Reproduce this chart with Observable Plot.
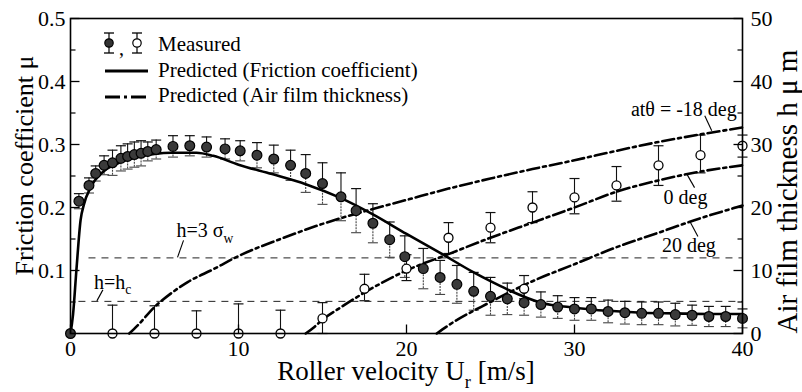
<!DOCTYPE html>
<html><head><meta charset="utf-8">
<script src="https://cdn.jsdelivr.net/npm/d3@7"></script>
<script src="https://cdn.jsdelivr.net/npm/@observablehq/plot@0.6"></script>
<style>
html,body{margin:0;padding:0;background:#fff;}
#chart{position:relative;width:802px;height:392px;overflow:hidden;}
</style></head><body><div id="chart"></div>
<script>
// ---- Measured friction coefficient (filled circles, left axis) ----
const muX   = [0, 0.5, 1.1, 1.5, 2.0, 2.5, 3.0, 3.4, 3.8, 4.2, 4.6, 5.1, 6.1, 7.1, 8.1, 9.2, 10.1, 11.1, 12.1, 13.1, 14, 15, 16.1, 17, 18, 19, 19.9, 21, 22, 23, 24, 25, 26, 27, 28, 29, 30, 31, 32, 33, 34, 35, 36, 37, 38, 39, 40];
const muY   = [0, 0.21, 0.235, 0.254, 0.267, 0.271, 0.278, 0.281, 0.284, 0.286, 0.289, 0.292, 0.297, 0.298, 0.296, 0.293, 0.29, 0.283, 0.277, 0.267, 0.254, 0.238, 0.217, 0.195, 0.175, 0.149, 0.122, 0.103, 0.089, 0.078, 0.067, 0.059, 0.055, 0.049, 0.046, 0.042, 0.039, 0.039, 0.035, 0.033, 0.032, 0.032, 0.030, 0.029, 0.027, 0.027, 0.024];
const muErr = [0, 0.012, 0.012, 0.012, 0.015, 0.02, 0.02, 0.02, 0.02, 0.02, 0.015, 0.015, 0.017, 0.016, 0.016, 0.016, 0.016, 0.02, 0.022, 0.024, 0.03, 0.033, 0.038, 0.035, 0.031, 0.028, 0.033, 0.032, 0.027, 0.03, 0.03, 0.03, 0.025, 0.02, 0.02, 0.018, 0.018, 0.018, 0.018, 0.018, 0.018, 0.018, 0.018, 0.016, 0.016, 0.016, 0.015];

// ---- Measured air film thickness (open circles, right axis, µm) ----
const hX  = [2.5, 5, 7.5, 10, 12.5, 15, 17.5, 20, 22.5, 25, 27, 27.5, 30, 32.5, 35, 37.5, 40];
const hY  = [0, 0, 0, 0, 0, 2.4, 7.1, 10.3, 15.2, 16.8, 7.1, 20, 21.6, 23.5, 26.7, 28.3, 29.8];
const hHi = [4.5, 4.4, 3.6, 4.7, 3.7, 4.9, 9.4, 12.5, 17.6, 19.2, 9.2, 22.5, 24.6, 26.5, 29.8, 31.5, 31.5];
const hLo = [0, 0, 0, 0, 0, 0, 5.2, 8.4, 12.7, 14.4, 5.5, 17.6, 19, 21, 23.5, 25.5, 28];

// ---- Predicted friction coefficient (solid) ----
const fricX = [0, 0.15, 0.35, 0.6, 0.8, 1.2, 2, 3, 4, 5, 6, 7.5, 8.5, 10, 12, 14, 16, 18, 20, 22, 24, 25, 26, 28, 30, 32, 34, 36, 38, 40];
const fricY = [0, 0.03, 0.1, 0.18, 0.205, 0.232, 0.258, 0.272, 0.28, 0.285, 0.287, 0.287, 0.282, 0.268, 0.253, 0.237, 0.216, 0.189, 0.158, 0.128, 0.097, 0.083, 0.07, 0.049, 0.041, 0.036, 0.033, 0.032, 0.031, 0.031];

// ---- Predicted air film thickness (dash-dot, µm) ----
const th18X = [3.5, 4, 5, 6, 7, 8.5, 10, 12.5, 15, 17.5, 20, 22.5, 25, 27.5, 30, 32.5, 35, 37.5, 40];
const th18Y = [0, 1.3, 4.2, 6.4, 8.2, 10.2, 12.3, 15, 17.4, 19.4, 21.2, 23, 24.6, 26.1, 27.5, 29, 30.4, 31.6, 32.7];
const th0X  = [14, 14.5, 15, 16, 17.5, 20, 22.5, 25, 27.5, 30, 32.5, 35, 37.5, 40];
const th0Y  = [0, 1, 2.2, 4, 6.5, 10, 12.6, 15.2, 17.6, 20, 22.5, 24.3, 25.7, 26.7];
const th20X = [21.8, 22.5, 25, 27.5, 30, 32.5, 35, 37.5, 40];
const th20Y = [0, 1.3, 5, 8.3, 11, 13.7, 16, 18.3, 20.3];

// ---- Reference thickness levels (µm) ----
const guideLabel = ["h=3σw", "h=hc"];
const guideH     = [12, 5.1];
const guideFrom  = [1.1, 0.5];
const guideTo    = [40, 40];

// ---- Axes ----
const xTicks      = [0, 10, 20, 30, 40];
const yLeftTicks  = [0.1, 0.2, 0.3, 0.4, 0.5];
const yLeftMinor  = [0.05, 0.15, 0.25, 0.35, 0.45];
const yRightTicks = [0, 10, 20, 30, 40, 50];
const yRightMinor = [5, 15, 25, 35, 45];
const xDomain = [0, 40];
const yDomain = [0, 0.5];
const hPerMu = 100; // right axis: 50 µm <-> 0.5

// ---- tables ----
const muData = muX.map((x, i) => ({x, y: muY[i], lo: muY[i] - muErr[i], hi: muY[i] + muErr[i], e: muErr[i]}));
const muBars = muData.filter(d => d.e > 0);
const hData = hX.map((x, i) => ({x, y: hY[i] / hPerMu, lo: hLo[i] / hPerMu, hi: hHi[i] / hPerMu}));
const hLoBars = hData.filter(d => d.lo < d.y);
const line = (xs, ys, k = 1) => xs.map((x, i) => ({x, y: ys[i] * k}));
const fric = line(fricX, fricY);
const th18 = line(th18X, th18Y, 1 / hPerMu);
const th0 = line(th0X, th0Y, 1 / hPerMu);
const th20 = line(th20X, th20Y, 1 / hPerMu);
const guides = guideH.map((h, i) => ({y: h / hPerMu, x1: guideFrom[i], x2: guideTo[i], name: guideLabel[i]}));

// custom path symbols (error-bar caps and inward ticks)
const capSym = {draw(c) { c.moveTo(-5, 0); c.lineTo(5, 0); }};
const hTick = (a, b) => ({draw(c) { c.moveTo(a, 0); c.lineTo(b, 0); }});
const vTick = (a, b) => ({draw(c) { c.moveTo(0, a); c.lineTo(0, b); }});

const serif = "'Liberation Serif','Times New Roman',serif";
const dashDot = "12,4,3,4";

const plot = Plot.plot({
  width: 802, height: 392,
  marginLeft: 70, marginRight: 60, marginTop: 18, marginBottom: 59,
  style: {fontFamily: serif, background: "white", color: "black", overflow: "visible"},
  x: {domain: xDomain},
  y: {domain: yDomain},
  marks: [
    Plot.ruleY(guides, {y: "y", x1: "x1", x2: "x2", stroke: "#222", strokeWidth: 1, strokeDasharray: "7,6"}),
    // filled error bars
    Plot.ruleX(muBars, {x: "x", y1: "y", y2: "hi", stroke: "#111", strokeWidth: 1.1}),
    Plot.ruleX(muBars, {x: "x", y1: "lo", y2: "y", stroke: "#444", strokeWidth: 1.1, strokeDasharray: "2,1"}),
    Plot.dot(muBars, {x: "x", y: "hi", symbol: capSym, stroke: "#111", fill: "none", strokeWidth: 1.2}),
    Plot.dot(muBars, {x: "x", y: "lo", symbol: capSym, stroke: "#444", fill: "none", strokeWidth: 1.1}),
    // open error bars
    Plot.ruleX(hData, {x: "x", y1: "lo", y2: "hi", stroke: "#111", strokeWidth: 1.1}),
    Plot.dot(hData, {x: "x", y: "hi", symbol: capSym, stroke: "#111", fill: "none", strokeWidth: 1.2}),
    Plot.dot(hLoBars, {x: "x", y: "lo", symbol: capSym, stroke: "#111", fill: "none", strokeWidth: 1.2}),
    // predicted curves
    Plot.line(th18, {x: "x", y: "y", curve: "monotone-x", stroke: "black", strokeWidth: 2.6, strokeDasharray: dashDot}),
    Plot.line(th0, {x: "x", y: "y", curve: "monotone-x", stroke: "black", strokeWidth: 2.6, strokeDasharray: dashDot}),
    Plot.line(th20, {x: "x", y: "y", curve: "monotone-x", stroke: "black", strokeWidth: 2.6, strokeDasharray: dashDot}),
    Plot.line(fric, {x: "x", y: "y", curve: "monotone-x", stroke: "black", strokeWidth: 2.6}),
    // measured points
    Plot.dot(hData, {x: "x", y: "y", r: 4.5, fill: "white", stroke: "black", strokeWidth: 1.3}),
    Plot.dot(muData, {x: "x", y: "y", r: 4.9, fill: "#3a3a3a", stroke: "black", strokeWidth: 1.2}),
    // inward ticks
    Plot.dot(yLeftTicks, {y: d => d, frameAnchor: "left", symbol: hTick(0, 9), stroke: "black", fill: "none", strokeWidth: 1.3}),
    Plot.dot(yLeftMinor, {y: d => d, frameAnchor: "left", symbol: hTick(0, 5), stroke: "black", fill: "none", strokeWidth: 1.2}),
    Plot.dot(yRightTicks.map(v => v / hPerMu), {y: d => d, frameAnchor: "right", symbol: hTick(-9, 0), stroke: "black", fill: "none", strokeWidth: 1.3}),
    Plot.dot(yRightMinor.map(v => v / hPerMu), {y: d => d, frameAnchor: "right", symbol: hTick(-5, 0), stroke: "black", fill: "none", strokeWidth: 1.2}),
    Plot.dot(xTicks, {x: d => d, frameAnchor: "bottom", symbol: vTick(-9, 0), stroke: "black", fill: "none", strokeWidth: 1.3}),
    // axis labels
    Plot.axisX({ticks: xTicks, tickSize: 0, tickPadding: 7, fontSize: 22, label: null, tickFormat: d3.format("d")}),
    Plot.axisY({anchor: "left", ticks: yLeftTicks, tickSize: 0, tickPadding: 5, fontSize: 22, label: null, tickFormat: d3.format(".1f")}),
    Plot.axisY({anchor: "right", ticks: yRightTicks.map(v => v / hPerMu), tickSize: 0, tickPadding: 8, fontSize: 22, label: null, tickFormat: d => Math.round(d * hPerMu)}),
    Plot.frame({stroke: "black", strokeWidth: 1.6})
  ]
});
document.getElementById("chart").appendChild(plot);

// ---- text with sub-scripts, legend ----
const svg = d3.select(plot);
const xs = d3.scaleLinear(plot.scale("x").domain, plot.scale("x").range);
const ys = d3.scaleLinear(plot.scale("y").domain, plot.scale("y").range);
const hy = h => ys(h / hPerMu);
const g = svg.append("g").attr("font-family", serif).attr("fill", "black").attr("text-anchor", "start");

function richText(sel, parts, size) {
  parts.forEach(([t, sub]) => {
    sel.append("tspan").text(t)
      .attr("font-size", sub === 1 ? size * 0.68 : size)
      .attr("dy", sub === 1 ? size * 0.28 : sub === -1 ? -size * 0.28 : 0);
  });
}

// axis titles
const fx = plot.scale("x").range, fy = plot.scale("y").range;
const bt = g.append("text").attr("x", (fx[0] + fx[1]) / 2).attr("y", 380).attr("text-anchor", "middle");
richText(bt, [["Roller velocity U", 0], ["r", 1], [" [m/s]", -1]], 27);
g.append("text").attr("transform", `translate(33,${(fy[0] + fy[1]) / 2 - 10}) rotate(-90)`)
  .attr("text-anchor", "middle").attr("font-size", 26).text("Friction coefficient μ");
g.append("text").attr("transform", `translate(797,${(fy[0] + fy[1]) / 2 + 16}) rotate(-90)`)
  .attr("text-anchor", "middle").attr("font-size", 29).text("Air film thickness h μ m");

// annotations: anchor point in data units, leader and text offsets in px
const notes = [
  {parts: [["h=3 σ", 0], ["w", 1]], ax: 6.4, ah: guideH[0], lead: [6, -17], text: [-1, -20], anchor: "start"},
  {parts: [["h=h", 0], ["c", 1]], ax: 1.6, ah: guideH[1], lead: [6, -11], text: [-3, -12], anchor: "start"},
  {parts: [["atθ = -18 deg", 0]], ax: 38.2, ah: 32.1, lead: [-7, -15], text: [25, -15], anchor: "end"},
  {parts: [["0 deg", 0]], ax: 36.7, ah: 25.3, lead: [8, 14], text: [-23, 30], anchor: "start"},
  {parts: [["20 deg", 0]], ax: 36.9, ah: 17.7, lead: [8, 15], text: [-28, 31], anchor: "start"}
];
notes.forEach(n => {
  const px = xs(n.ax), py = hy(n.ah);
  g.append("line").attr("x1", px).attr("y1", py).attr("x2", px + n.lead[0]).attr("y2", py + n.lead[1])
    .attr("stroke", "black").attr("stroke-width", 1.1);
  const t = g.append("text").attr("x", px + n.text[0]).attr("y", py + n.text[1]).attr("text-anchor", n.anchor);
  richText(t, n.parts, 20);
});

// legend (offsets from frame top-left)
const L = g.append("g").attr("transform", `translate(${fx[0]},${fy[1]})`).attr("text-anchor", "start");
function errGlyph(x, y, filled) {
  L.append("line").attr("x1", x).attr("x2", x).attr("y1", y - 10).attr("y2", y + 10).attr("stroke", "black").attr("stroke-width", 1.2);
  [-10, 10].forEach(d => L.append("line").attr("x1", x - 5).attr("x2", x + 5).attr("y1", y + d).attr("y2", y + d).attr("stroke", "black").attr("stroke-width", 1.3));
  L.append("circle").attr("cx", x).attr("cy", y).attr("r", 4.2).attr("fill", filled ? "#333" : "white").attr("stroke", "black").attr("stroke-width", 1.2);
}
errGlyph(39, 25, true);
L.append("text").attr("x", 49).attr("y", 37).attr("font-size", 20).text(",");
errGlyph(67, 25, false);
L.append("text").attr("x", 88).attr("y", 33).attr("font-size", 21).text("Measured");
L.append("line").attr("x1", 35).attr("x2", 78).attr("y1", 53).attr("y2", 53).attr("stroke", "black").attr("stroke-width", 3.2);
L.append("text").attr("x", 88).attr("y", 59).attr("font-size", 21).text("Predicted (Friction coefficient)");
L.append("line").attr("x1", 35).attr("x2", 78).attr("y1", 79).attr("y2", 79).attr("stroke", "black").attr("stroke-width", 3.2).attr("stroke-dasharray", "15,4,3,4,15");
L.append("text").attr("x", 88).attr("y", 84).attr("font-size", 21).text("Predicted (Air film thickness)");
</script></body></html>
